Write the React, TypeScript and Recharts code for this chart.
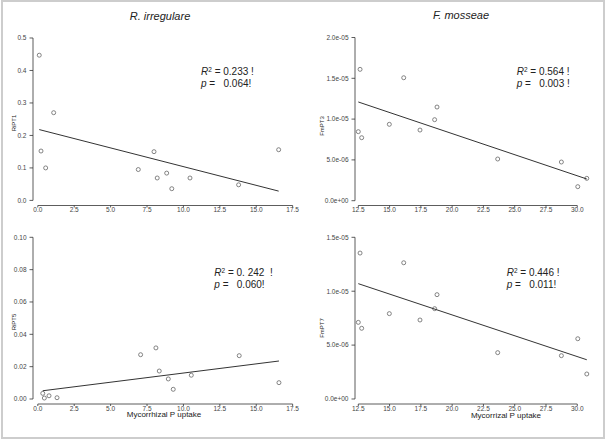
import { ReferenceLine, Scatter, ScatterChart, XAxis, YAxis } from "recharts";

const FONT = '"Liberation Sans", Arial, sans-serif';

// R. irregulare panels (x = mycorrhizal P uptake)
const riX1 = [0.1, 0.22, 0.54, 1.09, 6.9, 7.98, 8.2, 8.85, 9.2, 10.45, 13.79, 16.54];
const riPT1 = [0.447, 0.152, 0.1, 0.27, 0.095, 0.15, 0.069, 0.084, 0.036, 0.069, 0.048, 0.156];
const riPT1FitX = [0.1, 16.54];
const riPT1FitY = [0.218, 0.0286];

const riX5 = [0.34, 0.45, 0.77, 1.32, 7.06, 8.11, 8.34, 8.96, 9.3, 10.54, 13.83, 16.56];
const riPT5 = [0.0035, 0.0006, 0.002, 0.0008, 0.0274, 0.0316, 0.0173, 0.0124, 0.006, 0.0147, 0.0268, 0.0101];
const riPT5FitX = [0.34, 16.56];
const riPT5FitY = [0.0051, 0.0235];

// F. mosseae panels
const fmX = [12.5, 12.64, 12.77, 14.98, 16.13, 17.43, 18.6, 18.79, 23.64, 28.73, 30.04, 30.76];
const fmPT3 = [8.46e-6, 16.1e-6, 7.72e-6, 9.36e-6, 15.07e-6, 8.66e-6, 9.93e-6, 11.48e-6, 5.11e-6, 4.74e-6, 1.72e-6, 2.74e-6];
const fmPT3FitX = [12.5, 30.76];
const fmPT3FitY = [12.1e-6, 2.66e-6];
const fmPT7 = [7.11e-6, 13.54e-6, 6.56e-6, 7.92e-6, 12.64e-6, 7.33e-6, 8.38e-6, 9.68e-6, 4.3e-6, 4.02e-6, 5.59e-6, 2.32e-6];
const fmPT7FitX = [12.5, 30.76];
const fmPT7FitY = [10.7e-6, 3.64e-6];

const riXTicks = [0, 2.5, 5, 7.5, 10, 12.5, 15, 17.5];
const fmXTicks = [12.5, 15, 17.5, 20, 22.5, 25, 27.5, 30];
const riPT1Ticks = [0, 0.1, 0.2, 0.3, 0.4, 0.5];
const riPT5Ticks = [0, 0.02, 0.04, 0.06, 0.08, 0.1];
const fmPT3Ticks = [0, 5e-6, 1e-5, 1.5e-5, 2e-5];
const fmPT7Ticks = [0, 5e-6, 1e-5, 1.5e-5];

const zip = (xs: number[], ys: number[]) => xs.map((x, i) => ({ x, y: ys[i] }));

const sci = (v: number) => {
  const [m, e] = v.toExponential(1).split("e");
  return `${m}e${e[0]}${e.slice(1).padStart(2, "0")}`;
};

type PanelProps = {
  left: number;
  top: number;
  margin: { top: number; right: number; bottom: number; left: number };
  yWidth: number;
  xHeight: number;
  xDomain: [number, number];
  yDomain: [number, number];
  xTicks: number[];
  yTicks: number[];
  xFmt: (v: number) => string;
  yFmt: (v: number) => string;
  points: { x: number; y: number }[];
  fit: { x: number; y: number }[];
};

function Panel(p: PanelProps) {
  const x0 = p.xDomain[0];
  const y0 = p.yDomain[0];
  const tick = { fontSize: 6.5, fill: "#444", fontFamily: FONT };
  return (
    <div style={{ position: "absolute", left: p.left, top: p.top }}>
      <ScatterChart width={303} height={220} margin={p.margin}>
        <XAxis
          type="number"
          dataKey="x"
          domain={p.xDomain}
          allowDataOverflow
          ticks={p.xTicks}
          interval={0}
          tickFormatter={p.xFmt}
          axisLine={false}
          stroke="#444"
          tickLine={{ stroke: "#333", strokeWidth: 0.8 }}
          tickSize={2}
          tickMargin={0}
          height={p.xHeight}
          tick={tick}
        />
        <YAxis
          type="number"
          dataKey="y"
          domain={p.yDomain}
          allowDataOverflow
          ticks={p.yTicks}
          interval={0}
          tickFormatter={p.yFmt}
          axisLine={false}
          stroke="#444"
          tickLine={{ stroke: "#333", strokeWidth: 0.8 }}
          tickSize={3.5}
          tickMargin={3}
          width={p.yWidth}
          tick={tick}
        />
        <ReferenceLine
          ifOverflow="visible"
          stroke="#333"
          strokeWidth={0.8}
          segment={[
            { x: p.xTicks[0], y: y0 },
            { x: p.xTicks[p.xTicks.length - 1], y: y0 },
          ]}
        />
        <ReferenceLine
          ifOverflow="visible"
          stroke="#333"
          strokeWidth={0.8}
          segment={[
            { x: x0, y: p.yTicks[0] },
            { x: x0, y: p.yTicks[p.yTicks.length - 1] },
          ]}
        />
        <Scatter
          data={p.points}
          isAnimationActive={false}
          shape={(s: any) => (
            <circle cx={s.cx} cy={s.cy} r={2} fill="none" stroke="#666" strokeWidth={0.8} />
          )}
        />
        <Scatter
          data={p.fit}
          isAnimationActive={false}
          line={{ stroke: "#333", strokeWidth: 1 }}
          shape={() => <g />}
        />
      </ScatterChart>
    </div>
  );
}

// text placed by the centre of its capitals
const Txt = ({ x, y, size, children, center }: any) => (
  <div
    style={{
      position: "absolute",
      left: x,
      top: y - size * 0.47,
      fontFamily: FONT,
      fontSize: size,
      lineHeight: `${size}px`,
      color: "#222",
      whiteSpace: "pre",
      transform: center ? "translateX(-50%)" : undefined,
    }}
  >
    {children}
  </div>
);

const YTitle = ({ x, y, children }: any) => (
  <div style={{ position: "absolute", left: x, top: y, width: 0, height: 0 }}>
    <div
      style={{
        position: "absolute",
        left: 0,
        top: 0,
        transform: "translate(-50%, -50%) rotate(-90deg)",
        fontFamily: FONT,
        fontSize: 6,
        lineHeight: "6px",
        color: "#222",
        whiteSpace: "nowrap",
      }}
    >
      {children}
    </div>
  </div>
);

const Stat = ({ x, y, r2, pv }: { x: number; y: number; r2: string; pv: string }) => (
  <>
    <Txt x={x} y={y} size={10}>
      <i>R</i>
      <span style={{ position: "relative", top: -3.5, fontSize: 6.5 }}>2</span>
      {r2}
    </Txt>
    <Txt x={x} y={y + 11.6} size={10}>
      <i>p</i>
      {pv}
    </Txt>
  </>
);

export default function App() {
  return (
    <div
      style={{
        position: "fixed",
        left: 0,
        top: 0,
        width: 606,
        height: 440,
        background: "#fff",
        overflow: "hidden",
      }}
    >
      <div
        style={{
          position: "absolute",
          left: 1,
          top: 0,
          width: 604,
          height: 439,
          boxSizing: "border-box",
          border: "2px solid #cdcdcd",
        }}
      />
      <Panel
        left={0}
        top={0}
        margin={{ top: 34, right: 7, bottom: 0, left: 3 }}
        yWidth={30}
        xHeight={14.5}
        xDomain={[-0.33, 17.73]}
        yDomain={[-0.0157, 0.5123]}
        xTicks={riXTicks}
        yTicks={riPT1Ticks}
        xFmt={(v) => v.toFixed(1)}
        yFmt={(v) => v.toFixed(1)}
        points={zip(riX1, riPT1)}
        fit={zip(riPT1FitX, riPT1FitY)}
      />
      <Panel
        left={303}
        top={0}
        margin={{ top: 34, right: 16, bottom: 0, left: 12 }}
        yWidth={40}
        xHeight={14.5}
        xDomain={[12.236, 31.017]}
        yDomain={[-0.588e-6, 20.43e-6]}
        xTicks={fmXTicks}
        yTicks={fmPT3Ticks}
        xFmt={(v) => v.toFixed(1)}
        yFmt={sci}
        points={zip(fmX, fmPT3)}
        fit={zip(fmPT3FitX, fmPT3FitY)}
      />
      <Panel
        left={0}
        top={220}
        margin={{ top: 13, right: 7, bottom: 0, left: 3 }}
        yWidth={30}
        xHeight={36}
        xDomain={[-0.33, 17.73]}
        yDomain={[-0.00309, 0.10266]}
        xTicks={riXTicks}
        yTicks={riPT5Ticks}
        xFmt={(v) => v.toFixed(1)}
        yFmt={(v) => v.toFixed(2)}
        points={zip(riX5, riPT5)}
        fit={zip(riPT5FitX, riPT5FitY)}
      />
      <Panel
        left={303}
        top={220}
        margin={{ top: 13, right: 16, bottom: 0, left: 12 }}
        yWidth={40}
        xHeight={36}
        xDomain={[12.236, 31.017]}
        yDomain={[-0.464e-6, 15.4e-6]}
        xTicks={fmXTicks}
        yTicks={fmPT7Ticks}
        xFmt={(v) => v.toFixed(1)}
        yFmt={sci}
        points={zip(fmX, fmPT7)}
        fit={zip(fmPT7FitX, fmPT7FitY)}
      />

      <Txt x={160} y={16} size={11} center>
        <i>R. irregulare</i>
      </Txt>
      <Txt x={461} y={15.5} size={11} center>
        <i>F. mosseae</i>
      </Txt>

      <YTitle x={14} y={123}>RiPT1</YTitle>
      <YTitle x={14} y={321.5}>RiPT5</YTitle>
      <YTitle x={321.7} y={126}>FmPT3</YTitle>
      <YTitle x={321.7} y={328}>FmPT7</YTitle>

      <Txt x={164} y={415} size={8} center>
        Mycorrhizal P uptake
      </Txt>
      <Txt x={506} y={415.3} size={8} center>
        Mycorrizal P uptake
      </Txt>

      <Stat x={201} y={71.7} r2=" = 0.233 !" pv=" =   0.064!" />
      <Stat x={516.7} y={71.7} r2=" = 0.564 !" pv=" =   0.003 !" />
      <Stat x={214.3} y={272.7} r2=" = 0. 242  !" pv=" =   0.060!" />
      <Stat x={506.7} y={272.7} r2=" = 0.446 !" pv=" =   0.011!" />
    </div>
  );
}
